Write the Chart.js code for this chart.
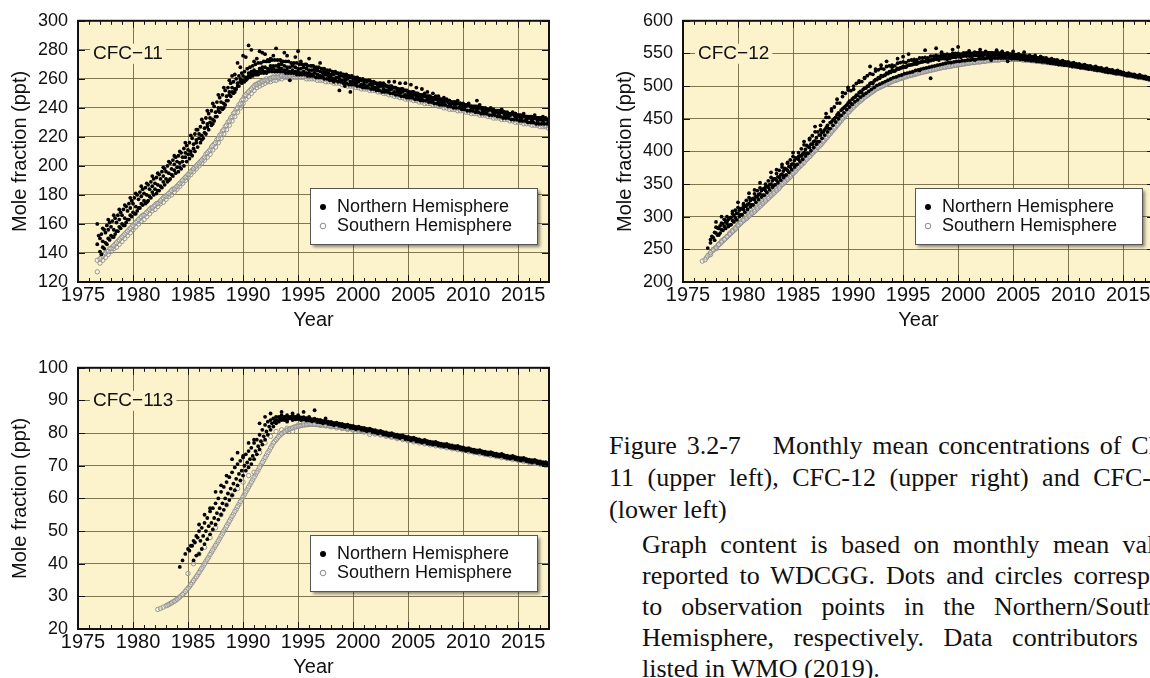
<!DOCTYPE html>
<html>
<head>
<meta charset="utf-8">
<script src="https://cdn.jsdelivr.net/npm/chart.js@4.4.1/dist/chart.umd.min.js"></script>
<style>
  html, body { margin: 0; padding: 0; background: #fff; }
  body { width: 1150px; height: 678px; overflow: hidden; position: relative; }
  canvas { position: absolute; }
  #c11 { left: 0; top: 0; }
  #c12 { left: 605px; top: 0; }
  #c113 { left: 0; top: 347px; }
  #caption {
    position: absolute; left: 609px; top: 430px; width: 580px;
    font-family: 'Liberation Serif', 'Times New Roman', serif; font-size: 26px; color: #111;
  }
  .p1 { line-height: 32px; }
  .p2 { line-height: 31px; margin-left: 33px; margin-top: 3px; }
  .j { text-align: justify; text-align-last: justify; }
  .gap { display: inline-block; width: 32px; }
</style>
</head>
<body>
<canvas id="c11" width="560" height="335"></canvas>
<canvas id="c12" width="560" height="335"></canvas>
<canvas id="c113" width="560" height="335"></canvas>

<div id="caption">
  <div class="p1">
    <div class="j">Figure 3.2-7<span class="gap"></span>Monthly mean concentrations of CFC-</div>
    <div class="j">11 (upper left), CFC-12 (upper right) and CFC-113</div>
    <div>(lower left)</div>
  </div>
  <div class="p2">
    <div class="j">Graph content is based on monthly mean values</div>
    <div class="j">reported to WDCGG. Dots and circles correspond</div>
    <div class="j">to observation points in the Northern/Southern</div>
    <div class="j">Hemisphere, respectively. Data contributors are</div>
    <div>listed in WMO (2019).</div>
  </div>
</div>

<script>
// ---------------------------------------------------------------------------
// Axis ranges and labels
// ---------------------------------------------------------------------------
const yearMin = 1975;
const yearMax = 2017.8;
const yearStep = 5;
const xTitle = 'Year';
const yTitle = 'Mole fraction (ppt)';
const legendLabels = ['Northern Hemisphere', 'Southern Hemisphere'];

const cfc11Range = [120, 300, 20];
const cfc12Range = [200, 600, 50];
const cfc113Range = [20, 100, 10];

// ---------------------------------------------------------------------------
// Monthly-mean records, one array per station group (ppt).
// Each array starts at the given decimal year and is sampled at a fixed step.
// ---------------------------------------------------------------------------

// CFC-11, Northern Hemisphere
const cfc11NorthAStart = 1976.75, cfc11NorthAStep = 0.25;
const cfc11NorthA = [146,
  150,148,154,156, 158,156,161,163, 166,164,169,171, 174,172,177,179,
  181,180,184,186, 188,187,191,193, 196,195,198,201, 203,202,206,209,
  211,210,215,218, 222,221,226,229, 233,232,237,240, 244,243,248,251,
  254,253,257,260, 262,261,264,265, 266,265,267,268, 268,267,269,269,
  269,268,270,269, 268,268,269,268, 267,267,268,267, 266,266,267,266,
  265,264,265,264, 263,263,264,262, 262,261,262,261, 260,259,260,259,
  258,258,259,257, 257,256,257,255, 255,254,255,254, 253,252,253,252,
  251,250,251,250, 249,249,250,248, 248,247,248,246, 246,245,246,245,
  244,244,245,243, 243,242,243,241, 241,241,242,240, 240,239,240,239,
  238,238,239,237, 237,236,237,236, 235,235,236,234, 234,234,235,233,
  233,232,233,232];
const cfc11NorthBStart = 1977.0, cfc11NorthBStep = 0.25;
const cfc11NorthB = [
  141,144,147,150, 152,151,155,158, 160,159,163,166, 168,167,171,174,
  176,175,179,182, 184,183,186,189, 191,190,194,197, 199,199,203,206,
  208,208,212,216, 219,218,223,227, 230,229,234,238, 240,240,245,249,
  251,251,255,258, 259,259,262,263, 264,263,265,266, 265,265,267,267,
  266,266,267,266, 266,265,266,265, 265,264,265,264, 264,263,264,263,
  262,262,263,261, 261,260,261,260, 259,259,260,258, 258,257,258,256,
  256,255,256,255, 254,254,255,253, 252,252,253,251, 251,250,251,249,
  249,248,249,248, 247,247,248,246, 246,245,246,244, 244,244,245,243,
  243,242,243,241, 241,241,242,240, 240,239,240,238, 238,238,239,237,
  237,236,237,235, 235,235,236,234, 234,233,234,232, 233,232,233,231,
  232,231,232,230];
const cfc11NorthCStart = 1976.75, cfc11NorthCStep = 0.5;
const cfc11NorthC = [
  160,157,163,166,170,173,178,181,186,188,
  193,195,199,203,207,210,216,221,225,232,
  238,243,249,254,259,263,268,275,280,274,
  278,273,276,270,278,259,275,272,270,269,
  266,265,262,258,252,255,251,256,255,254,
  257,256,257,258,258,257,257,256,254,253,
  251,250,248,247,245,244,243,242,241,245,
  240,239,238,236,237,235,236,233,234,232,
  233,234];
const cfc11NorthDStart = 1976.875, cfc11NorthDStep = 0.25;
const cfc11NorthD = [152,
  153,156,159,161, 162,164,166,168, 170,172,174,176, 178,180,182,184,
  185,187,189,191, 192,194,196,198, 200,202,204,206, 207,209,212,214,
  216,219,222,225, 227,230,233,236, 238,241,244,247, 249,252,254,257,
  258,260,262,264, 265,267,268,269, 270,271,271,272, 272,272,273,273,
  273,273,272,272, 272,271,271,271, 270,270,270,269, 269,269,268,268,
  267,267,266,266, 265,265,264,264, 263,263,262,262, 261,261,260,260,
  259,259,258,258, 257,257,256,256, 255,255,254,254, 253,253,252,252,
  251,251,250,250, 249,249,248,248, 247,247,246,246, 245,245,244,244,
  244,243,243,242, 242,242,241,241, 241,240,240,239, 239,239,238,238,
  238,237,237,236, 236,236,235,235, 235,234,234,234, 234,233,233,233,
  233,232,232];
const cfc11NorthEStart = 1977.125, cfc11NorthEStep = 0.25;
const cfc11NorthE = [
  139,143,146,149, 151,153,155,157, 159,161,163,165, 167,169,171,173,
  174,176,178,180, 181,183,185,187, 189,191,193,195, 196,198,200,203,
  205,207,210,213, 216,219,222,225, 228,231,234,237, 239,242,245,248,
  250,253,255,257, 258,260,261,262, 263,263,264,264, 264,265,265,265,
  265,265,265,264, 264,264,264,263, 263,263,263,262, 262,262,261,261,
  261,260,260,259, 259,259,258,258, 257,257,256,256, 256,255,255,254,
  254,254,253,253, 252,252,251,251, 251,250,250,249, 249,248,248,247,
  247,247,246,246, 245,245,245,244, 244,243,243,242, 242,242,241,241,
  240,240,240,239, 239,238,238,238, 237,237,236,236, 236,235,235,235,
  234,234,233,233, 233,232,232,232, 231,231,231,230, 230,230,229,229,
  229,229,229];
const cfc11NorthFStart = 1989.0, cfc11NorthFStep = 0.5;
const cfc11NorthF = [262,271,276,283,272,279,277,274,281,272,276,270,279,268,274,266,271];

// CFC-11, Southern Hemisphere
const cfc11SouthAStart = 1976.75, cfc11SouthAStep = 0.25;
const cfc11SouthA = [135,
  136,138,140,141, 143,145,147,149, 151,153,155,157, 159,161,163,165,
  166,168,170,171, 173,174,176,178, 179,181,183,184, 186,188,190,192,
  194,196,198,200, 202,204,206,209, 211,214,216,219, 222,225,228,231,
  234,237,240,243, 246,249,251,253, 255,256,257,258, 259,259,260,261,
  261,261,262,262, 262,262,263,263, 263,263,263,262, 262,262,262,261,
  261,261,260,260, 260,259,259,259, 258,258,257,257, 257,256,256,255,
  255,255,254,254, 254,253,253,252, 252,251,251,250, 250,249,249,248,
  248,247,247,246, 246,246,245,245, 245,244,244,243, 243,242,242,241,
  241,241,240,240, 240,239,239,238, 238,238,237,237, 237,236,236,235,
  235,235,234,234, 234,233,233,232, 232,232,231,231, 231,230,230,229,
  229,229,228,228];
const cfc11SouthBStart = 1976.75, cfc11SouthBStep = 0.25;
const cfc11SouthB = [127,
  133,135,137,139, 141,143,144,146, 148,150,152,154, 156,158,160,162,
  163,165,167,169, 170,172,174,175, 177,179,180,182, 184,186,188,190,
  192,194,196,198, 200,202,204,206, 208,211,213,216, 219,222,225,228,
  231,234,237,240, 243,246,248,250, 252,254,255,256, 257,258,258,259,
  259,260,260,261, 261,261,261,261, 261,261,261,260, 260,260,260,259,
  259,259,258,258, 258,257,257,257, 256,256,255,255, 255,254,254,253,
  253,253,252,252, 252,251,251,250, 250,249,249,248, 248,247,247,246,
  246,246,245,245, 244,244,243,243, 243,242,242,241, 241,240,240,239,
  239,239,238,238, 238,237,237,236, 236,236,235,235, 235,234,234,233,
  233,233,232,232, 232,231,231,230, 230,230,229,229, 229,228,228,228,
  227,227,227,226];
const cfc11SouthCStart = 1977.125, cfc11SouthCStep = 0.25;
const cfc11SouthC = [
  137,139,141,143, 144,146,148,150, 152,154,156,158, 160,162,164,166,
  167,169,171,172, 174,175,177,179, 180,182,184,185, 187,189,191,193,
  195,197,199,201, 203,205,208,210, 213,215,218,221, 224,227,230,233,
  236,239,242,245, 248,250,252,254, 256,257,258,259, 260,260,261,262,
  262,262,263,263, 263,263,264,264, 264,264,264,263, 263,263,263,262,
  262,262,261,261, 261,260,260,260, 259,259,258,258, 258,257,257,256,
  256,256,255,255, 255,254,254,253, 253,252,252,251, 251,250,250,249,
  249,248,248,247, 247,247,246,246, 246,245,245,244, 244,243,243,242,
  242,242,241,241, 241,240,240,239, 239,239,238,238, 238,237,237,236,
  236,236,235,235, 235,234,234,233, 233,233,232,232, 232,231,231,230,
  230,230,229];

// CFC-12, Northern Hemisphere
const cfc12NorthAStart = 1977.25, cfc12NorthAStep = 0.25;
const cfc12NorthA = [252,260,268,
  275,272,280,285, 289,287,294,298, 305,303,311,316, 320,318,326,330,
  335,333,340,345, 350,348,356,360, 365,363,371,376, 381,379,388,393,
  398,397,406,411, 416,415,425,430, 436,435,445,450, 456,455,465,469,
  474,474,482,486, 490,490,497,500, 504,504,510,513, 516,516,520,522,
  524,523,527,528, 530,529,532,533, 534,534,536,537, 538,537,539,540,
  541,540,542,542, 543,542,544,544, 545,544,546,546, 546,545,547,547,
  547,546,548,547, 547,547,548,547, 547,546,548,546, 546,545,546,545,
  544,543,545,543, 542,541,543,541, 540,539,540,538, 537,537,538,536,
  535,534,535,533, 532,531,532,530, 529,528,529,527, 526,525,526,524,
  523,522,523,521, 519,518,519,517, 516,515,516,514, 513,512,512,511];
const cfc12NorthBStart = 1978.0, cfc12NorthBStep = 0.25;
const cfc12NorthB = [
  284,282,290,296, 300,298,305,310, 314,312,320,325, 329,327,335,340,
  344,342,350,355, 360,358,366,371, 376,374,382,387, 392,390,398,404,
  410,409,418,424, 430,430,440,446, 452,452,462,468, 474,474,484,489,
  494,493,500,504, 508,507,513,516, 519,518,523,525, 527,526,530,531,
  532,531,535,536, 537,536,539,540, 541,540,543,543, 544,543,546,546,
  547,546,548,548, 549,548,550,550, 550,549,551,551, 551,550,552,551,
  551,550,552,551, 551,550,552,550, 550,549,551,549, 549,548,549,547,
  547,546,547,545, 544,543,545,543, 542,541,542,540, 539,538,539,537,
  536,535,536,534, 533,532,533,531, 530,529,530,528, 527,526,527,525,
  524,523,524,522, 520,519,520,518, 517,516,517,515, 514,513,513,512];
const cfc12NorthCStart = 1977.5, cfc12NorthCStep = 0.5;
const cfc12NorthC = [
  265,292,300,293,308,322,318,336,341,352,
  346,368,372,380,383,398,392,415,420,438,
  433,458,465,480,490,498,495,506,512,530,
  526,532,538,529,542,545,549,538,524,555,
  512,558,552,541,556,560,548,554,540,556,
  553,540,555,553,538,553,549,552,542,547,
  545,543,539,540,536,537,533,534,530,531,
  527,528,524,525,521,521,517,518,514,515,
  510];
const cfc12NorthDStart = 1977.625, cfc12NorthDStep = 0.25;
const cfc12NorthD = [270,276,
  283,286,289,292, 296,299,302,305, 310,313,316,319, 325,328,331,334,
  340,343,346,349, 355,358,361,364, 370,373,377,380, 386,389,393,396,
  403,407,411,415, 421,425,429,433, 440,444,448,452, 459,463,467,471,
  477,480,483,486, 492,495,497,500, 505,508,510,512, 515,517,519,521,
  523,525,526,528, 529,531,532,533, 534,536,537,538, 539,540,541,542,
  543,544,545,545, 546,547,547,548, 548,549,549,550, 550,550,551,551,
  551,551,551,551, 551,551,551,550, 550,550,549,549, 548,548,547,547,
  546,545,545,544, 543,543,542,541, 540,540,539,538, 537,537,536,535,
  534,534,533,532, 531,531,530,529, 528,528,527,526, 525,525,524,523,
  522,521,521,520, 519,518,518,517, 516,515,515,514, 513,512,512];
const cfc12NorthEStart = 1977.875, cfc12NorthEStep = 0.25;
const cfc12NorthE = [264,
  272,275,279,282, 285,288,292,295, 300,303,307,311, 315,318,322,326,
  330,333,337,341, 345,349,352,356, 360,364,368,372, 376,380,384,388,
  393,397,401,406, 411,415,420,425, 430,435,440,445, 450,455,459,464,
  468,472,476,479, 483,486,489,492, 495,498,501,503, 505,507,509,511,
  513,514,516,517, 519,520,521,522, 524,525,526,527, 528,529,530,531,
  532,533,534,535, 536,536,537,538, 538,539,539,540, 540,541,541,542,
  542,542,543,543, 543,543,543,543, 543,543,543,542, 542,542,541,541,
  540,540,539,539, 538,538,537,537, 536,535,535,534, 533,533,532,532,
  531,530,530,529, 528,528,527,526, 526,525,524,524, 523,522,521,521,
  520,519,519,518, 517,516,516,515, 514,513,513,512, 511,510,510];

// CFC-12, Southern Hemisphere
const cfc12SouthAStart = 1976.75, cfc12SouthAStep = 0.25;
const cfc12SouthA = [232,
  234,240,245,249, 253,257,261,265, 269,273,277,281, 286,290,294,297,
  301,305,308,312, 316,320,324,328, 332,336,340,344, 349,353,357,361,
  366,370,375,379, 383,388,392,397, 401,406,410,415, 420,425,430,435,
  440,445,450,455, 460,464,468,472, 476,479,483,486, 489,492,495,497,
  499,501,503,505, 507,509,510,512, 513,514,516,517, 518,519,520,521,
  522,523,524,525, 526,527,528,529, 530,530,531,532, 533,533,534,535,
  535,536,536,537, 537,538,538,539, 539,540,540,540, 541,541,541,541,
  541,541,541,541, 540,540,540,539, 539,538,538,537, 537,536,536,535,
  535,534,533,533, 532,532,531,530, 530,529,528,528, 527,526,526,525,
  524,523,523,522, 521,520,520,519, 518,517,517,516, 515,514,514,513,
  512,511,511,510];
const cfc12SouthBStart = 1977.5, cfc12SouthBStep = 0.25;
const cfc12SouthB = [242,250,
  251,258,263,266, 270,275,279,283, 288,292,296,300, 304,307,311,315,
  319,323,327,331, 335,339,343,347, 352,356,360,364, 369,374,378,382,
  387,391,396,400, 405,409,414,418, 423,428,433,438, 443,448,453,458,
  463,467,471,475, 479,482,486,489, 492,494,497,499, 501,503,505,507,
  509,510,512,513, 515,516,517,518, 519,520,521,522, 523,524,525,526,
  527,528,529,530, 531,531,532,533, 534,534,535,536, 536,537,537,538,
  538,539,539,540, 540,541,541,541, 542,542,542,542, 542,542,541,541,
  541,540,540,540, 539,539,538,538, 537,537,536,536, 535,535,534,534,
  533,532,532,531, 530,530,529,528, 528,527,526,526, 525,524,524,523,
  522,521,521,520, 519,518,517,517, 516,515,514,514, 513,512,511,511];
const cfc12SouthCStart = 1977.125, cfc12SouthCStep = 0.25;
const cfc12SouthC = [
  237,242,247,251, 255,259,263,267, 271,275,279,284, 288,292,296,299,
  303,306,310,314, 318,322,326,330, 334,338,342,347, 351,355,359,364,
  368,373,377,381, 386,390,394,399, 403,408,412,417, 422,427,432,437,
  442,447,452,457, 461,466,470,474, 477,481,484,487, 490,493,496,498,
  500,502,504,506, 508,509,511,512, 514,515,516,517, 518,520,521,522,
  523,524,525,526, 527,528,529,529, 530,531,532,532, 533,534,534,535,
  536,536,537,537, 538,538,539,539, 540,540,540,541, 541,541,541,541,
  541,541,541,540, 540,540,539,539, 538,538,537,537, 536,536,535,535,
  534,534,533,533, 532,531,531,530, 529,529,528,527, 527,526,525,525,
  524,523,522,522, 521,520,520,519, 518,517,516,516, 515,514,513,513,
  512,511,510];

// CFC-113, Northern Hemisphere
const cfc113NorthAStart = 1984.25, cfc113NorthAStep = 0.25;
const cfc113NorthA = [39,41,43,
  44.5,45.5,47,48.5, 50,51,52.5,54, 56,57,58.5,60, 62,63.5,65,66.5,
  68,69.5,70.5,71.5, 72.5,73.5,74.5,75.5, 77,78,79.5,81, 82.5,83.5,84,84.5,
  85,85,85.5,85, 85.5,85,85.5,85, 85,84.8,84.9,84.6, 84.5,84.3,84.4,84.1,
  84,83.7,83.8,83.5, 83.4,83.1,83.2,82.9, 82.8,82.5,82.6,82.3, 82.2,81.9,82,81.7,
  81.6,81.3,81.4,81, 80.9,80.6,80.7,80.3, 80.2,79.9,80,79.6, 79.5,79.2,79.3,78.9,
  78.8,78.5,78.6,78.2, 78.1,77.8,77.9,77.5, 77.4,77.2,77.3,76.9, 76.8,76.6,76.7,76.3,
  76.2,76,76.1,75.7, 75.6,75.3,75.4,75, 74.9,74.7,74.8,74.4, 74.3,74.1,74.2,73.8,
  73.7,73.5,73.6,73.2, 73.1,72.9,73,72.6, 72.5,72.3,72.4,72, 71.9,71.7,71.8,71.4,
  71.3,71.1,71.1,70.7];
const cfc113NorthBStart = 1985.5, cfc113NorthBStep = 0.25;
const cfc113NorthB = [41,42.5,
  43,44.5,46,47.5, 49,50.5,52,53.5, 55,56.5,58,59.5, 61,62.5,64,65.5,
  67,68.5,69.5,70.5, 72,73.5,75,76.5, 78,79.5,81,82, 83,83.5,84,84,
  84,84.5,84,84.2, 84.3,84,84.2,83.9, 83.9,83.6,83.8,83.4, 83.3,83,83.2,82.8,
  82.7,82.4,82.6,82.2, 82.1,81.8,82,81.6, 81.5,81.2,81.4,81, 80.9,80.6,80.8,80.3,
  80.2,79.9,80.1,79.6, 79.5,79.2,79.4,78.9, 78.8,78.5,78.7,78.2, 78.1,77.8,78,77.5,
  77.4,77.1,77.3,76.8, 76.7,76.5,76.6,76.2, 76.1,75.9,76,75.6, 75.5,75.3,75.4,75,
  74.9,74.6,74.8,74.4, 74.2,74,74.2,73.8, 73.6,73.4,73.6,73.2, 73,72.8,73,72.6,
  72.4,72.2,72.4,72, 71.8,71.6,71.8,71.4, 71.2,71,71.2,70.8, 70.6,70.4,70.5,70.1];
const cfc113NorthCStart = 1986.0, cfc113NorthCStep = 0.5;
const cfc113NorthC = [52,55,57,62,64,67,72,74,73,77,78,83,
  85,86,84,86.5,83.5,86,85.5,86.5,85,87,84,84.5];
const cfc113NorthDStart = 1985.125, cfc113NorthDStep = 0.25;
const cfc113NorthD = [44,45.5,46.5,
  48, 47,48.5,50,51.5, 52.5,54,55.5,57, 58.5,60,61.5,63, 64.5,66,67.5,68.5,
  70,71,72,73, 74.5,76,77.5,79, 80.5,82,83,83.5, 84,84.5,84.5,84.5,
  84.8,84.6,84.8,84.5, 84.6,84.4,84.5,84.2, 84.1,83.9,84,83.7, 83.6,83.3,83.5,83.1,
  83,82.7,82.9,82.5, 82.4,82.1,82.3,81.9, 81.8,81.5,81.7,81.3, 81.2,80.9,81.1,80.6,
  80.5,80.2,80.4,79.9, 79.8,79.5,79.7,79.2, 79.1,78.8,79,78.5, 78.4,78.1,78.3,77.8,
  77.7,77.4,77.6,77.1, 77,76.8,76.9,76.5, 76.4,76.2,76.3,75.9, 75.8,75.6,75.7,75.3,
  75.2,74.9,75.1,74.7, 74.5,74.3,74.5,74.1, 73.9,73.7,73.9,73.5, 73.3,73.1,73.3,72.9,
  72.7,72.5,72.7,72.3, 72.1,71.9,72.1,71.7, 71.5,71.3,71.5,71.1, 70.9,70.7,70.8];

// CFC-113, Southern Hemisphere
const cfc113SouthAStart = 1982.25, cfc113SouthAStep = 0.25;
const cfc113SouthA = [26,26.3,26.7,
  27.1,27.5,28,28.5, 29.1,29.8,30.6,31.5, 32.5,33.6,34.8,36, 37.3,38.6,40,41.4,
  42.8,44.2,45.6,47, 48.5,50,51.5,53, 54.5,56,57.5,59, 60.5,62,63.5,65,
  66.5,68,69.5,71, 72.5,74,75.5,77, 78,79,79.8,80.4, 80.9,81.3,81.6,81.9,
  82.1,82.3,82.5,82.6, 82.7,82.7,82.7,82.6, 82.6,82.5,82.4,82.3, 82.2,82.1,82,81.9,
  81.8,81.6,81.5,81.4, 81.3,81.1,81,80.8, 80.7,80.5,80.4,80.2, 80.1,79.9,79.7,79.6,
  79.4,79.2,79.1,78.9, 78.7,78.6,78.4,78.2, 78,77.9,77.7,77.5, 77.4,77.2,77.1,76.9,
  76.8,76.6,76.5,76.3, 76.2,76,75.9,75.7, 75.6,75.4,75.3,75.1, 75,74.8,74.7,74.5,
  74.4,74.2,74.1,73.9, 73.8,73.6,73.5,73.3, 73.2,73,72.9,72.7, 72.6,72.4,72.3,72.1,
  72,71.8,71.7,71.5, 71.4,71.2,71.1,70.9, 70.8,70.6,70.5,70.3];
const cfc113SouthBStart = 1985.0, cfc113SouthBStep = 0.5;
const cfc113SouthB = [
  37,40,43,45,48,51,55,58,61,63,65,67,68,74,77,79,80.5,81,81.5,80.5,
  82.5,83,83,82.8,82.4,82.2,81.9,81.6,81.4,81.1,80.9,80.6,80.3,79.6,79.7,79.4,
  79,78.7,78.3,78,77.6,77.3,77,76.7,76.4,76.1,75.8,75.5,75.2,74.9,74.6,74.3,
  74,73.7,73.4,73.1,72.8,72.5,72.2,71.9,71.6,71.3,71,70.7,70.4,70.1];
const cfc113SouthCStart = 1983.125, cfc113SouthCStep = 0.25;
const cfc113SouthC = [
  27.3,27.8,28.3,28.8, 29.5,30.2,31,32, 33,34.2,35.4,36.6, 38,39.3,40.7,42,
  43.5,44.9,46.3,47.7, 49.2,50.7,52.2,53.7, 55.2,56.7,58.2,59.7, 61.2,62.7,64.2,65.7,
  67.2,68.7,70.2,71.7, 73.2,74.7,76.2,77.5, 78.5,79.4,80.1,80.6, 81.1,81.4,81.8,82,
  82.2,82.4,82.5,82.6, 82.7,82.7,82.6,82.6, 82.5,82.4,82.3,82.2, 82.1,82,81.9,81.8,
  81.7,81.5,81.4,81.3, 81.2,81,80.9,80.7, 80.6,80.4,80.3,80.1, 80,79.8,79.6,79.5,
  79.3,79.1,79,78.8, 78.6,78.5,78.3,78.1, 77.9,77.8,77.6,77.4, 77.3,77.1,77,76.8,
  76.7,76.5,76.4,76.2, 76.1,75.9,75.8,75.6, 75.5,75.3,75.2,75, 74.9,74.7,74.6,74.4,
  74.3,74.1,74,73.8, 73.7,73.5,73.4,73.2, 73.1,72.9,72.8,72.6, 72.5,72.3,72.2,72,
  71.9,71.7,71.6,71.4, 71.3,71.1,71,70.8, 70.7,70.5,70.4];

// ---------------------------------------------------------------------------
// Drawing helpers
// ---------------------------------------------------------------------------
const FONT = "'Liberation Sans', Arial, Helvetica, sans-serif";
Chart.defaults.font.family = FONT;
Chart.defaults.color = '#111';

const paperColor = '#fcf3cd';
const gridColor = 'rgba(96, 86, 48, 0.8)';
const frameColor = '#111';

function toPoints(start, step, values) {
  return values.map((v, i) => ({ x: start + i * step, y: v }));
}

function northSet(points) {
  return {
    data: points, pointStyle: 'circle', pointRadius: 1.9, pointHoverRadius: 0,
    backgroundColor: '#000', borderColor: '#000', borderWidth: 0
  };
}
function southSet(points) {
  return {
    data: points, pointStyle: 'circle', pointRadius: 2.2, pointHoverRadius: 0,
    backgroundColor: 'rgba(255,255,255,0.25)', borderColor: '#8c8c8c', borderWidth: 0.9
  };
}

// Paper background, inward tick marks, frame, species label and legend box
const panelDecor = {
  id: 'panelDecor',
  beforeDraw(chart) {
    const { ctx, chartArea: a } = chart;
    ctx.save();
    ctx.fillStyle = paperColor;
    ctx.fillRect(a.left, a.top, a.right - a.left, a.bottom - a.top);
    ctx.restore();
  },
  afterDatasetsDraw(chart, args, opts) {
    const { ctx, chartArea: a } = chart;
    const xs = chart.scales.x, ys = chart.scales.y;
    ctx.save();

    // yearly minor ticks on top and bottom, major ticks on left and right
    ctx.strokeStyle = frameColor;
    ctx.lineWidth = 1;
    ctx.beginPath();
    for (let yr = Math.ceil(xs.min); yr <= xs.max; yr++) {
      const px = Math.round(xs.getPixelForValue(yr)) + 0.5;
      const len = yr % yearStep === 0 ? 7 : 4;
      ctx.moveTo(px, a.bottom); ctx.lineTo(px, a.bottom - len);
      ctx.moveTo(px, a.top); ctx.lineTo(px, a.top + len);
    }
    ys.ticks.forEach(t => {
      const py = Math.round(ys.getPixelForValue(t.value)) + 0.5;
      ctx.moveTo(a.left, py); ctx.lineTo(a.left + 7, py);
      ctx.moveTo(a.right, py); ctx.lineTo(a.right - 7, py);
    });
    ctx.stroke();

    ctx.lineWidth = 2;
    ctx.strokeRect(a.left, a.top, a.right - a.left, a.bottom - a.top);

    // species name in the upper-left corner, masking the grid behind it
    ctx.font = '19px ' + FONT;
    const tw = ctx.measureText(opts.species).width;
    const lx = a.left + 15, ly = a.top + 33;
    ctx.fillStyle = paperColor;
    ctx.fillRect(lx - 3, ly - 10, tw + 6, 20);
    ctx.fillStyle = '#111';
    ctx.textBaseline = 'middle';
    ctx.textAlign = 'left';
    ctx.fillText(opts.species, lx, ly);

    // legend box with drop shadow
    const bw = 227, bh = 56;
    const bx = a.right - 12 - bw, by = a.bottom - 38 - bh;
    ctx.save();
    ctx.shadowColor = 'rgba(0,0,0,0.45)';
    ctx.shadowBlur = 3;
    ctx.shadowOffsetX = 3;
    ctx.shadowOffsetY = 3;
    ctx.fillStyle = '#fff';
    ctx.fillRect(bx, by, bw, bh);
    ctx.restore();
    ctx.lineWidth = 1;
    ctx.strokeStyle = '#555';
    ctx.strokeRect(bx + 0.5, by + 0.5, bw, bh);

    const rows = [by + 19, by + 38];
    ctx.beginPath();
    ctx.arc(bx + 13, rows[0], 3, 0, Math.PI * 2);
    ctx.fillStyle = '#000';
    ctx.fill();
    ctx.beginPath();
    ctx.arc(bx + 13, rows[1], 2.8, 0, Math.PI * 2);
    ctx.strokeStyle = '#8c8c8c';
    ctx.lineWidth = 1;
    ctx.stroke();

    ctx.font = '18px ' + FONT;
    ctx.fillStyle = '#111';
    ctx.fillText(legendLabels[0], bx + 27, rows[0]);
    ctx.fillText(legendLabels[1], bx + 27, rows[1]);
    ctx.restore();
  }
};

function makePanel(canvasId, species, yRange, north, south) {
  const [yMin, yMax, yStep] = yRange;
  return new Chart(document.getElementById(canvasId), {
    type: 'scatter',
    data: { datasets: [...north.map(northSet), ...south.map(southSet)] },
    options: {
      responsive: false,
      animation: false,
      devicePixelRatio: 1,
      events: [],
      layout: { padding: { top: 12, right: 11, left: 0, bottom: 0 } },
      plugins: {
        legend: { display: false },
        tooltip: { enabled: false },
        panelDecor: { species }
      },
      scales: {
        x: {
          type: 'linear', min: yearMin, max: yearMax,
          ticks: {
            stepSize: yearStep, includeBounds: false, autoSkip: false, maxRotation: 0,
            padding: 1, labelOffset: 5, font: { size: 20 }, color: '#111', callback: v => String(v)
          },
          grid: { color: gridColor, lineWidth: 1, drawTicks: false },
          border: { display: false },
          title: { display: true, text: xTitle, font: { size: 20 }, color: '#111', padding: { top: 0, bottom: 3 } },
          afterFit: s => { s.height = 53; }
        },
        y: {
          type: 'linear', min: yMin, max: yMax,
          ticks: {
            stepSize: yStep, padding: 10, font: { size: 18 }, color: '#111', callback: v => String(v)
          },
          grid: { color: gridColor, lineWidth: 1, drawTicks: false },
          border: { display: false },
          title: { display: true, text: yTitle, font: { size: 20 }, color: '#111', padding: { top: 8, bottom: 0 } },
          afterFit: s => { s.width = 78; }
        }
      }
    },
    plugins: [panelDecor]
  });
}

makePanel('c11', 'CFC\u221211', cfc11Range,
  [toPoints(cfc11NorthAStart, cfc11NorthAStep, cfc11NorthA),
   toPoints(cfc11NorthBStart, cfc11NorthBStep, cfc11NorthB),
   toPoints(cfc11NorthCStart, cfc11NorthCStep, cfc11NorthC),
   toPoints(cfc11NorthDStart, cfc11NorthDStep, cfc11NorthD),
   toPoints(cfc11NorthEStart, cfc11NorthEStep, cfc11NorthE),
   toPoints(cfc11NorthFStart, cfc11NorthFStep, cfc11NorthF)],
  [toPoints(cfc11SouthAStart, cfc11SouthAStep, cfc11SouthA),
   toPoints(cfc11SouthBStart, cfc11SouthBStep, cfc11SouthB),
   toPoints(cfc11SouthCStart, cfc11SouthCStep, cfc11SouthC)]);

makePanel('c12', 'CFC\u221212', cfc12Range,
  [toPoints(cfc12NorthAStart, cfc12NorthAStep, cfc12NorthA),
   toPoints(cfc12NorthBStart, cfc12NorthBStep, cfc12NorthB),
   toPoints(cfc12NorthCStart, cfc12NorthCStep, cfc12NorthC),
   toPoints(cfc12NorthDStart, cfc12NorthDStep, cfc12NorthD),
   toPoints(cfc12NorthEStart, cfc12NorthEStep, cfc12NorthE)],
  [toPoints(cfc12SouthAStart, cfc12SouthAStep, cfc12SouthA),
   toPoints(cfc12SouthBStart, cfc12SouthBStep, cfc12SouthB),
   toPoints(cfc12SouthCStart, cfc12SouthCStep, cfc12SouthC)]);

makePanel('c113', 'CFC\u2212113', cfc113Range,
  [toPoints(cfc113NorthAStart, cfc113NorthAStep, cfc113NorthA),
   toPoints(cfc113NorthBStart, cfc113NorthBStep, cfc113NorthB),
   toPoints(cfc113NorthCStart, cfc113NorthCStep, cfc113NorthC),
   toPoints(cfc113NorthDStart, cfc113NorthDStep, cfc113NorthD)],
  [toPoints(cfc113SouthAStart, cfc113SouthAStep, cfc113SouthA),
   toPoints(cfc113SouthBStart, cfc113SouthBStep, cfc113SouthB),
   toPoints(cfc113SouthCStart, cfc113SouthCStep, cfc113SouthC)]);
</script>
</body>
</html>
